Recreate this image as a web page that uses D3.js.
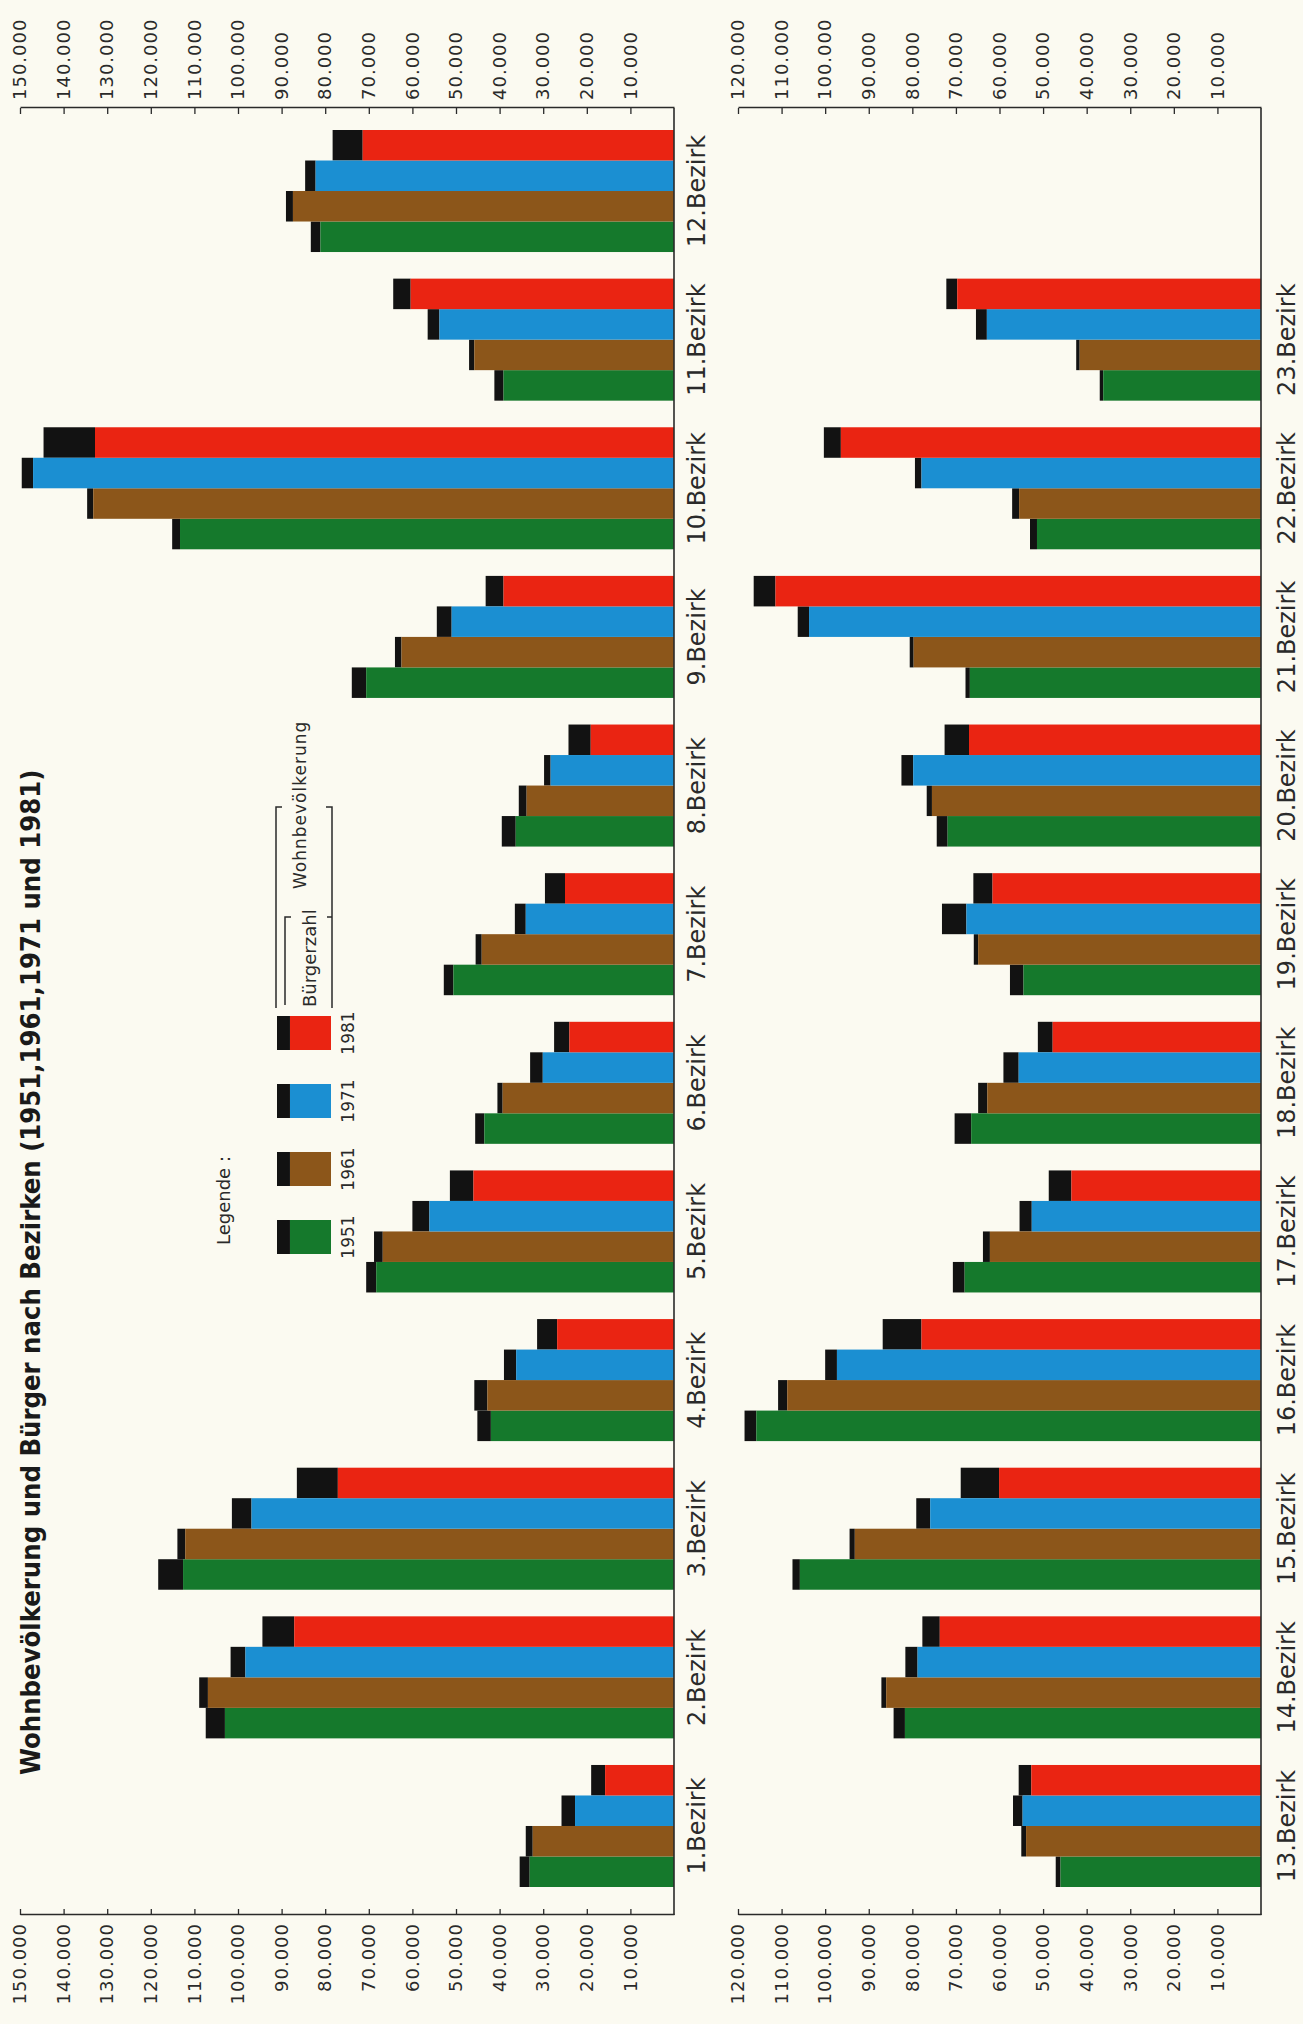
<!DOCTYPE html>
<html><head><meta charset="utf-8">
<script src="https://cdn.jsdelivr.net/npm/d3@7"></script>
<style>
html,body{margin:0;padding:0;background:#fbfaf1;}
svg{display:block;}
text{font-family:"DejaVu Sans",sans-serif;}
</style></head><body>
<svg id="chart" width="1303" height="2024"></svg>
<script>
// ---------- data ----------
const titleText = "Wohnbevölkerung und Bürger nach Bezirken (1951,1961,1971 und 1981)";
const districtsTop = ["1.Bezirk","2.Bezirk","3.Bezirk","4.Bezirk","5.Bezirk","6.Bezirk","7.Bezirk","8.Bezirk","9.Bezirk","10.Bezirk","11.Bezirk","12.Bezirk"];
const districtsBottom = ["13.Bezirk","14.Bezirk","15.Bezirk","16.Bezirk","17.Bezirk","18.Bezirk","19.Bezirk","20.Bezirk","21.Bezirk","22.Bezirk","23.Bezirk"];
const years = ["1951","1961","1971","1981"];
// Bürgerzahl (coloured part) and Wohnbevölkerung (coloured + black part), districts 1..23
const buerger1951 = [33100,103000,112600,42000,68300,43500,50600,36300,70600,113300,39100,81100, 46000,81700,105800,115800,68000,66500,54500,71900,66800,51400,36200];
const wohn1951    = [35400,107400,118300,45100,70600,45600,52800,39500,73900,115100,41200,83300, 47100,84300,107500,118500,70700,70300,57600,74400,67800,53000,37000];
const buerger1961 = [32400,106900,112100,42800,66800,39300,44100,33800,62500,133200,45800,87400, 53900,86000,93200,108700,62200,62800,64900,75500,79700,55500,41600];
const wohn1961    = [34000,108900,113900,45800,68800,40500,45500,35600,64000,134600,47000,89000, 55000,87100,94400,110800,63800,64900,65900,76700,80600,57100,42400];
const buerger1971 = [22700,98300,96900,36200,56100,30100,34000,28300,51000,147000,53800,82200, 54700,78800,75900,97300,52600,55600,67600,79800,103700,77900,62900];
const wohn1971    = [25800,101700,101400,39000,60000,33000,36500,29800,54400,149600,56500,84600, 56900,81600,79100,100000,55400,59100,73200,82500,106300,79400,65400];
const buerger1981 = [15800,87100,77100,26800,46000,24000,25000,19100,39100,132800,60400,71400, 52700,73700,60100,77900,43500,47800,61600,67000,111400,96400,69700];
const wohn1981    = [19000,94400,86500,31400,51400,27500,29600,24200,43200,144600,64400,78300, 55600,77700,68900,86800,48700,51200,66000,72600,116400,100300,72200];
const ticksTop = [10000,20000,30000,40000,50000,60000,70000,80000,90000,100000,110000,120000,130000,140000,150000];
const ticksBottom = [10000,20000,30000,40000,50000,60000,70000,80000,90000,100000,110000,120000];
const legendTitle = "Legende :";
const legendBuerger = "Bürgerzahl";
const legendWohn = "Wohnbevölkerung";

// ---------- styles ----------
const colors = {"1951":"#15792c","1961":"#8c561a","1971":"#1b8fd2","1981":"#ea2412"};
const black = "#121212";
const ink = "#2a2a2a";

const svg = d3.select("#chart");
svg.append("rect").attr("width",1303).attr("height",2024).attr("fill","#fbfaf1");
// rotated frame: width 2024 (image bottom -> top), height 1303 (image left -> right)
const g = svg.append("g").attr("transform","translate(0,2024) rotate(-90)");

const x = d3.scaleBand().domain(d3.range(12)).range([137,1894]).paddingInner(0.179).paddingOuter(0);
const xs = d3.scaleBand().domain(years).range([0,x.bandwidth()]).padding(0);

const series = [
  {year:"1951", b:buerger1951, w:wohn1951},
  {year:"1961", b:buerger1961, w:wohn1961},
  {year:"1971", b:buerger1971, w:wohn1971},
  {year:"1981", b:buerger1981, w:wohn1981}
];

const fmt = d3.formatLocale({decimal:",",thousands:".",grouping:[3],currency:["",""]}).format(",d");

const panels = [
  {names:districtsTop, offset:0, y:d3.scaleLinear().domain([0,150000]).range([674,20]), ticks:ticksTop, labelY:705},
  {names:districtsBottom, offset:12, y:d3.scaleLinear().domain([0,120000]).range([1261,738]), ticks:ticksBottom, labelY:1295}
];

panels.forEach(p=>{
  const pg = g.append("g");
  const rows = [];
  p.names.forEach((name,i)=>{
    series.forEach(s=>{
      rows.push({i:i, year:s.year, b:s.b[p.offset+i], w:s.w[p.offset+i]});
    });
  });
  // black part (Wohnbevölkerung beyond Bürgerzahl)
  pg.selectAll("rect.tot").data(rows).join("rect").attr("class","tot")
    .attr("x",d=>x(d.i)+xs(d.year)).attr("width",xs.bandwidth())
    .attr("y",d=>p.y(d.w)).attr("height",d=>Math.max(0,p.y(d.b)-p.y(d.w)))
    .attr("fill",black);
  // coloured part (Bürgerzahl)
  pg.selectAll("rect.bg").data(rows).join("rect").attr("class","bg")
    .attr("x",d=>x(d.i)+xs(d.year)).attr("width",xs.bandwidth())
    .attr("y",d=>p.y(d.b)).attr("height",d=>p.y(0)-p.y(d.b))
    .attr("fill",d=>colors[d.year]);
  // category labels
  pg.selectAll("text.cat").data(p.names).join("text").attr("class","cat")
    .attr("x",(d,i)=>x(i)+x.bandwidth()/2).attr("y",p.labelY)
    .attr("text-anchor","middle").attr("font-size",24).attr("fill",ink)
    .text(d=>d);
  // baseline
  pg.append("line").attr("x1",109).attr("x2",1916).attr("y1",p.y(0)).attr("y2",p.y(0))
    .attr("stroke",ink).attr("stroke-width",1.6);
  // axes
  const axL = d3.axisLeft(p.y).tickValues(p.ticks).tickFormat(fmt).tickSizeInner(-6).tickSizeOuter(0).tickPadding(8);
  const axR = d3.axisRight(p.y).tickValues(p.ticks).tickFormat(fmt).tickSizeInner(-6).tickSizeOuter(0).tickPadding(8);
  [[axL,109],[axR,1916]].forEach(([ax,pos])=>{
    const ag = pg.append("g").attr("transform",`translate(${pos},0)`).call(ax);
    ag.select(".domain").attr("stroke",ink).attr("stroke-width",1.6);
    ag.selectAll(".tick line").attr("stroke",ink).attr("stroke-width",1.3);
    ag.selectAll(".tick text").attr("font-size",18).attr("letter-spacing",1).attr("fill",ink)
      .attr("font-family","DejaVu Sans, sans-serif");
  });
});

// title
const title = g.append("text").attr("x",249).attr("y",40)
  .attr("font-size",26).attr("font-weight","bold").attr("fill","#1a1a1a")
  .attr("font-stretch","condensed").text(titleText);
const tl = title.node().getComputedTextLength();
title.attr("font-size",26*1006/tl);

// legend
const lg = g.append("g");
lg.append("text").attr("x",779).attr("y",230).attr("font-size",18).attr("fill",ink).text(legendTitle);
const lx = d3.scaleBand().domain(years).range([770,1008]).paddingInner(0.5).paddingOuter(0);
const ly = d3.scaleLinear().domain([0,1]).range([331,277]);
lg.selectAll("rect.lc").data(years).join("rect").attr("class","lc")
  .attr("x",d=>lx(d)).attr("width",lx.bandwidth()).attr("y",ly(0.76)).attr("height",ly(0)-ly(0.76))
  .attr("fill",d=>colors[d]);
lg.selectAll("rect.lb").data(years).join("rect").attr("class","lb")
  .attr("x",d=>lx(d)).attr("width",lx.bandwidth()).attr("y",ly(1)).attr("height",ly(0.76)-ly(1))
  .attr("fill",black);
lg.selectAll("text.ly").data(years).join("text").attr("class","ly")
  .attr("x",d=>lx(d)+lx.bandwidth()/2).attr("y",354).attr("text-anchor","middle")
  .attr("font-size",17).attr("fill",ink).text(d=>d);
// brackets
const br = lg.append("g").attr("stroke",ink).attr("stroke-width",1.5).attr("fill","none");
br.append("path").attr("d","M1016,276 H1217 V282");
br.append("path").attr("d","M1019,285 H1107 V291");
br.append("path").attr("d","M1016,332 H1217 V326 M1107,332 V327");
lg.append("text").attr("x",1017).attr("y",316).attr("font-size",18).attr("fill",ink).text(legendBuerger);
lg.append("text").attr("x",1135).attr("y",306).attr("font-size",17).attr("letter-spacing",1).attr("fill",ink).text(legendWohn);
</script>
</body></html>
